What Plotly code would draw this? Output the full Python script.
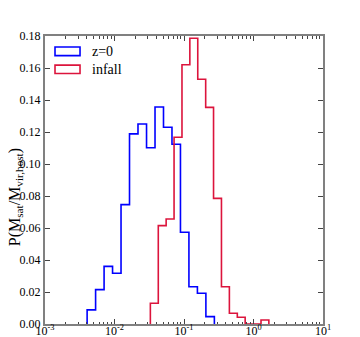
import plotly.graph_objects as go

# log10 bin edges and normalised counts
z0_log_edges = [-2.394, -2.272, -2.150, -2.028, -1.906, -1.784, -1.662, -1.539,
                -1.417, -1.295, -1.173, -1.051, -0.929, -0.807, -0.685, -0.563]
z0_heights = [0.0088, 0.0215, 0.036, 0.0317, 0.0746, 0.1188, 0.125, 0.1102,
              0.1356, 0.123, 0.1123, 0.0573, 0.0233, 0.0192, 0.0046]

infall_log_edges = [-1.484, -1.370, -1.257, -1.143, -1.029, -0.916, -0.802, -0.688,
                    -0.575, -0.461, -0.347, -0.233, -0.120, -0.006, 0.108, 0.221]
infall_heights = [0.013, 0.0615, 0.0656, 0.1167, 0.162, 0.1786, 0.153, 0.1354,
                  0.0785, 0.0233, 0.0067, 0.0042, 0.0, 0.0, 0.0025]

x_tick_vals = [1e-3, 1e-2, 1e-1, 1e0, 1e1]
x_tick_text = ["10<sup>-3</sup>", "10<sup>-2</sup>", "10<sup>-1</sup>",
               "10<sup>0</sup>", "10<sup>1</sup>"]
y_tick_vals = [0.00, 0.02, 0.04, 0.06, 0.08, 0.10, 0.12, 0.14, 0.16, 0.18]

BLUE = "#0000ff"
RED = "#dc143c"
GRAY = "#808080"
FONT = "Liberation Serif, Times New Roman, serif"


def step_xy(log_edges, heights):
    # outline like matplotlib histtype='step'
    edges = [10 ** e for e in log_edges]
    xs = [edges[0]] + edges
    ys = [0.0] + list(heights) + [0.0]
    return xs, ys


fig = go.Figure()
for edges, heights, color in [(z0_log_edges, z0_heights, BLUE),
                              (infall_log_edges, infall_heights, RED)]:
    xs, ys = step_xy(edges, heights)
    fig.add_trace(go.Scatter(x=xs, y=ys, mode="lines", line_shape="hv",
                             line=dict(color=color, width=1.6),
                             showlegend=False, hoverinfo="skip"))

minor_vals = [m * 10 ** k for k in range(-3, 1) for m in range(2, 10)]

fig.update_xaxes(type="log", range=[-3, 1], automargin=False,
                 tickvals=x_tick_vals, ticktext=x_tick_text,
                 ticks="inside", ticklen=5, tickwidth=1, tickcolor="#444",
                 minor=dict(tickvals=minor_vals, ticks="inside", ticklen=2.5,
                            tickwidth=1, tickcolor="#444", showgrid=False),
                 showline=True, linecolor=GRAY, linewidth=2, mirror="allticks",
                 showgrid=False, zeroline=False,
                 tickfont=dict(family=FONT, size=12, color="#000"),
                 ticklabelstandoff=-5)
fig.update_yaxes(range=[0, 0.18], automargin=False,
                 tickvals=y_tick_vals, tickformat=".2f",
                 ticks="inside", ticklen=5, tickwidth=1, tickcolor="#444",
                 showline=True, linecolor=GRAY, linewidth=2, mirror="allticks",
                 showgrid=False, zeroline=False,
                 tickfont=dict(family=FONT, size=12, color="#000"))

# legend drawn as outlined patches, like matplotlib's
legend_items = [("z=0", BLUE, 0.962, 0.932, 0.947),
                ("infall", RED, 0.899, 0.870, 0.885)]
for label, color, y1, y0, yt in legend_items:
    fig.add_shape(type="rect", xref="paper", yref="paper",
                  x0=0.036, x1=0.126, y0=y0, y1=y1,
                  line=dict(color=color, width=1.6), fillcolor="rgba(0,0,0,0)")
    fig.add_annotation(text=label, xref="paper", yref="paper", x=0.162, y=yt,
                       xanchor="left", yanchor="middle", showarrow=False,
                       font=dict(family=FONT, size=14, color="#000"))

fig.add_annotation(text="P(M<sub>sat</sub>/M<sub>vir,host</sub>)",
                   xref="paper", yref="paper", x=-0.108, y=0.44,
                   xanchor="center", yanchor="middle", textangle=-90,
                   showarrow=False,
                   font=dict(family=FONT, size=16, color="#000"))

# the page body adds an 8px offset, so the figure is drawn 8px smaller
fig.update_layout(width=352, height=329,
                  margin=dict(l=37, r=37, t=28, b=13),
                  plot_bgcolor="white", paper_bgcolor="white",
                  showlegend=False)

fig.write_html("out.html")
